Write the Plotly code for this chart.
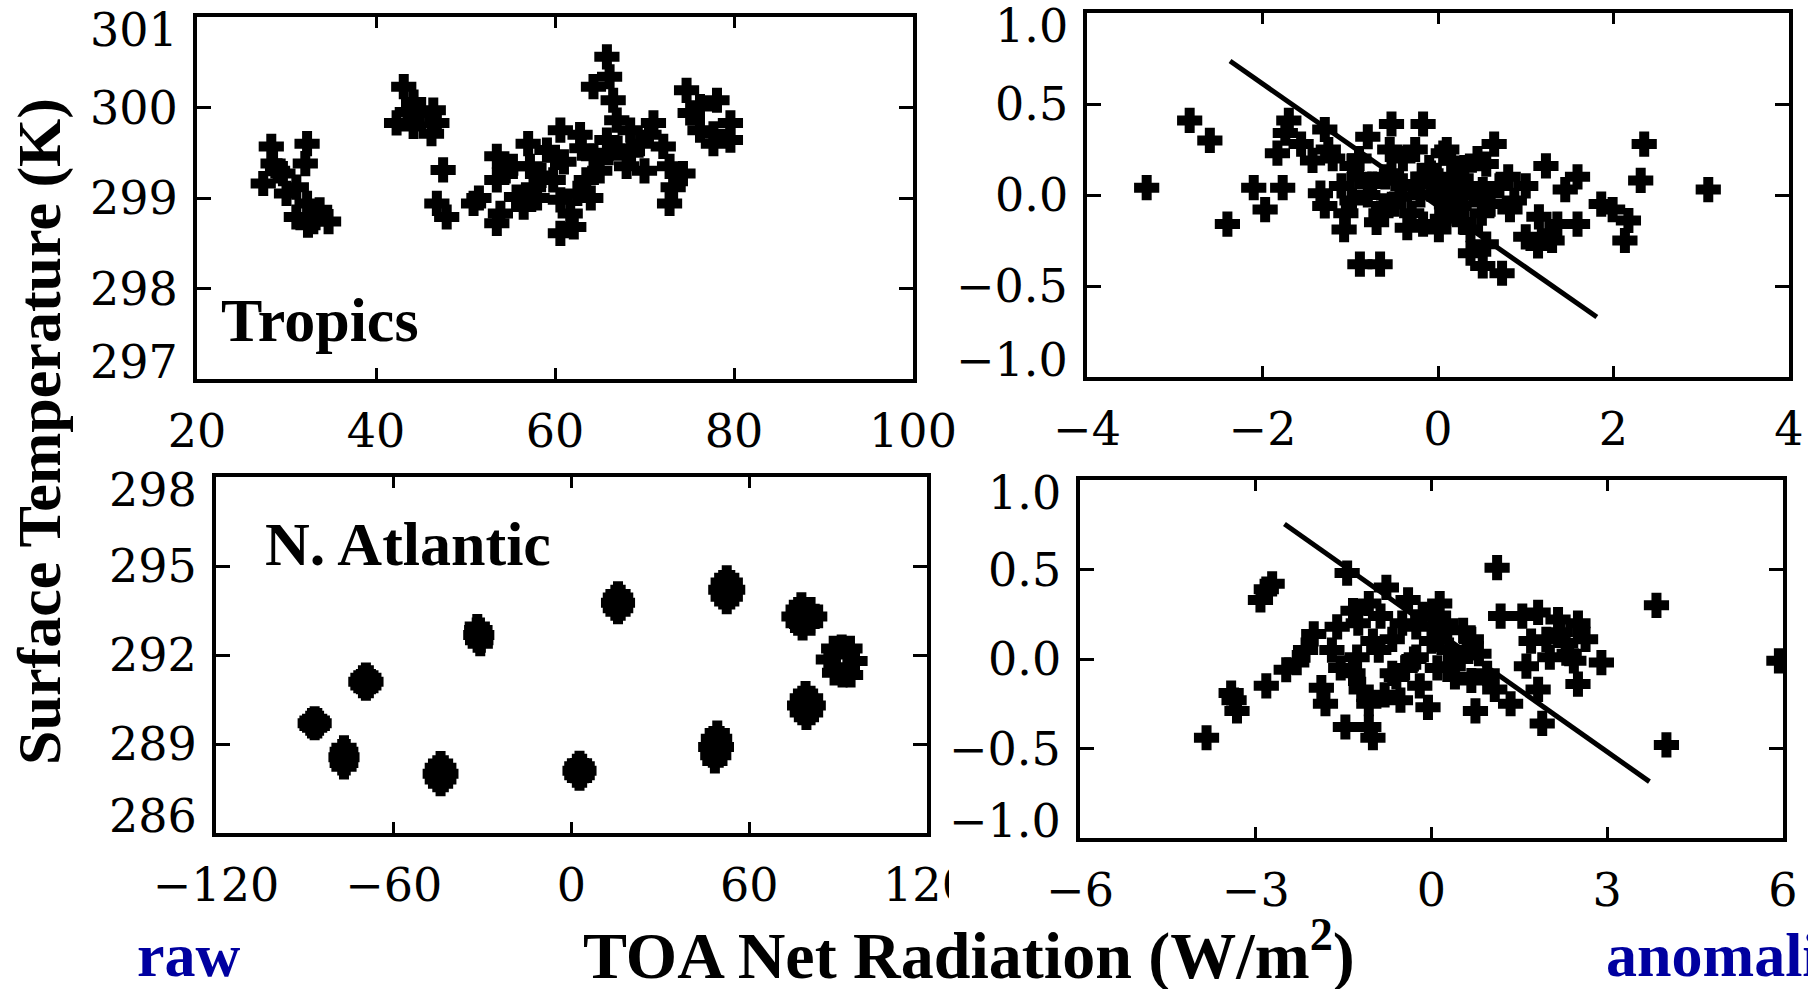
import plotly.graph_objects as go

W, H = 1808, 989

# ---------------- data ----------------
# Tropics, raw monthly values (TOA net radiation W/m2, surface temperature K)
trop_raw_x = [28.3, 32.3, 32.1, 27.4, 29.6, 31.1, 32.3, 31.1, 33.0, 34.7, 28.5, 33.7, 32.4, 30.0, 29.0,
              43.1, 44.2, 42.3, 44.9, 46.4, 46.2, 44.2, 46.8, 43.5,
              47.5, 46.8, 47.9, 50.9, 53.5, 53.5, 53.9, 53.5, 55.7, 57.2, 59.1, 60.6, 62.8, 59.8, 60.6,
              61.7, 60.6, 62.1, 63.5, 64.3, 65.8, 65.8, 66.1, 64.3, 66.5, 66.9, 68.4, 68.0, 71.0, 72.1,
              72.8, 74.3, 73.2, 72.8, 57.6, 55.3, 58.0, 56.5, 61.0, 62.5, 65.0, 67.0, 69.5, 70.0,
              51.5, 54.5, 58.5, 60.0, 63.0, 64.0, 66.0, 68.5, 70.5, 57.0,
              74.7, 76.2, 78.1, 75.1, 79.6, 77.7, 79.6, 77.7, 76.2]
trop_raw_y = [299.57, 299.60, 299.38, 299.16, 299.27, 299.12, 298.94, 298.79, 298.74, 298.74, 299.38, 298.87,
              298.70, 299.05, 299.30,
              300.23, 300.06, 299.83, 299.94, 299.97, 299.71, 299.79, 299.83, 299.95,
              299.31, 298.94, 298.79, 298.94, 299.46, 299.20, 298.83, 298.72, 299.01, 299.35, 299.53, 299.75,
              299.70, 299.20, 298.98, 298.83, 298.61, 298.68, 299.20, 299.46, 299.64, 300.56, 300.34, 300.23,
              300.08, 299.86, 299.75, 299.35, 299.83, 299.57, 299.35, 299.27, 299.12, 298.94, 299.12, 299.35,
              299.00, 298.90, 299.40, 299.05, 299.30, 299.55, 299.60, 299.30,
              299.00, 299.30, 299.25, 299.45, 299.55, 299.00, 299.50, 299.50, 299.70, 299.60,
              300.19, 300.01, 300.08, 299.94, 299.83, 299.71, 299.64, 299.60, 299.75]

# Tropics, anomalies
trop_anom_x = [-3.32, -2.83, -2.60, -2.40, -2.10, -1.77, -1.97, -1.70, -1.74, -1.83, -1.56, -1.43, -1.29, -1.25,
               -1.34, -1.29, -1.07, -0.98, -0.98, -0.80, -0.89, -0.66, -0.53, -0.17, -0.75, -0.53, -0.62, -0.44,
               -0.26, -0.26, -0.17, 0.01, 0.06, -0.08, 0.01, 0.19, 0.24, 0.15, 0.37, 0.55, 0.37, 0.51, 0.73,
               0.55, 0.51, 0.64, 0.87, 1.00, 0.82, 1.23, 1.00, 1.14, 1.27, 1.36, 1.45, 1.59, 1.59, 1.86, 1.99,
               2.17, 2.13, 2.35, 2.31, 3.08,
               -0.80, -0.60, -0.40, -0.20, 0.00, 0.20, 0.40, 0.10, -0.30, -0.50, 0.30, -0.10, 0.50, -0.90,
               -1.10, -0.70, 0.30, -1.20, -0.40, 0.10, 0.70, 0.60, -1.05, -0.35, 0.20,
               -0.90, -0.65, -0.15, 0.35, 0.45, -0.55, 0.05, 0.80, 1.30, 1.15]
trop_anom_y = [0.04, 0.41, 0.30, -0.16, 0.04, 0.04, -0.08, 0.41, 0.34, 0.23, 0.28, 0.19, 0.36, 0.25,
               0.01, -0.06, -0.19, 0.16, -0.03, 0.32, -0.38, -0.38, 0.39, 0.39, 0.06, 0.12, -0.06, -0.01,
               0.25, 0.06, -0.16, -0.19, 0.23, 0.12, -0.01, 0.03, -0.06, 0.19, -0.19, -0.27, -0.32, -0.39, -0.43,
               0.17, 0.03, 0.28, -0.03, 0.05, -0.08, 0.16, -0.23, -0.28, -0.21, -0.16, 0.03, 0.10, -0.16, -0.05,
               -0.08, -0.14, -0.25, 0.28, 0.08, 0.03,
               0.00, 0.10, 0.05, 0.00, 0.05, 0.10, 0.00, -0.10, -0.10, -0.05, 0.15, 0.15, -0.10, 0.20,
               0.05, -0.15, -0.15, 0.20, 0.20, 0.25, 0.05, -0.05, -0.10, -0.18, -0.05,
               0.10, -0.10, 0.10, 0.05, 0.20, 0.25, -0.13, 0.10, -0.25, -0.12]
trop_fit_x = [-2.37, 1.81]
trop_fit_y = [0.736, -0.67]

# N. Atlantic, raw monthly values
natl_raw_x = [-86.7, -86.7, -88.2, -85.2, -87.6, -85.8, -87.6, -85.8,
              -76.8, -76.8, -77.8, -75.8, -77.4, -76.2, -77.4, -76.2,
              -69.4, -69.4, -71.1, -67.7, -70.4, -68.4, -70.4, -68.4,
              -44.2, -44.2, -46.0, -42.4, -45.3, -43.1, -45.3, -43.1,
              -31.8, -30.8, -32.3, -30.3, -32.0, -30.9, -31.7, -30.6,
              2.7, 2.7, 1.2, 4.2, 1.8, 3.6, 1.8, 3.6,
              15.7, 15.7, 14.2, 17.2, 14.8, 16.6, 14.8, 16.6,
              52.4, 52.4, 50.4, 54.4, 51.2, 53.6, 51.2, 53.6,
              49.2, 48.4, 47.0, 50.6, 47.9, 50.0, 47.7, 49.7,
              77.6, 78.0, 75.1, 82.1, 76.5, 80.7, 76.5, 80.7,
              88.5, 94.0, 88.8, 94.2, 86.7, 95.7, 91.2, 91.5,
              79.0, 79.3, 77.0, 81.6, 77.9, 80.7, 77.9, 80.7]
natl_raw_y = [289.85, 289.55, 289.70, 289.70, 289.79, 289.79, 289.61, 289.61,
              288.87, 288.23, 288.55, 288.55, 288.74, 288.74, 288.36, 288.36,
              291.32, 290.88, 291.10, 291.10, 291.23, 291.23, 290.97, 290.97,
              288.34, 287.66, 288.00, 288.00, 288.20, 288.20, 287.80, 287.80,
              292.96, 292.38, 292.67, 292.67, 292.84, 292.84, 292.50, 292.50,
              288.35, 287.85, 288.10, 288.10, 288.25, 288.25, 287.95, 287.95,
              294.06, 293.46, 293.76, 293.76, 293.94, 293.94, 293.58, 293.58,
              294.60, 293.80, 294.20, 294.20, 294.44, 294.44, 293.96, 293.96,
              289.37, 288.43, 288.90, 288.90, 289.18, 289.18, 288.62, 288.62,
              293.69, 292.91, 293.30, 293.30, 293.53, 293.53, 293.07, 293.07,
              292.22, 292.22, 291.40, 291.33, 291.85, 291.80, 292.27, 291.33,
              290.70, 289.90, 290.30, 290.30, 290.54, 290.54, 290.06, 290.06]

# N. Atlantic, anomalies
natl_anom_x = [-3.84, -3.37, -3.42, -3.32, -2.82, -2.72, -2.92, -2.82, -2.48, -2.15, -2.01, -1.81, -1.88,
               -1.47, -1.00, -1.07, -1.44, -0.77, -1.61, -1.34, -1.07, -0.87, -0.40, 0.14, 0.01, -0.26,
               -1.27, -1.34, -1.20, -1.07, -0.67, -0.67, -0.53, -0.06, -0.26, 0.14, 0.28, 0.54, 0.68, 0.81,
               0.68, 0.75, 0.95, 1.08, 1.35, 1.62, 1.82, 1.89, 1.12, 1.18, 1.55, 1.82, 2.16, 2.50, 1.96,
               2.29, 2.63, 2.02, 2.43, 2.90, 2.50, 3.84, 4.01, 5.93,
               -0.90, -0.50, -0.30, 0.00, 0.30, 0.40, -0.20, -0.60, 0.10, 0.50, -1.00, -0.80, -2.30,
               -1.70, -1.55, -0.45, 0.25, 0.60, -0.15, 2.20, 1.70, 2.35, -1.25]
natl_anom_y = [-0.44, -0.23, -0.19, -0.29, 0.39, 0.42, 0.33, -0.15, -0.06, 0.05, 0.14, -0.25, -0.16,
               -0.38, -0.44, -0.38, 0.48, 0.40, 0.18, 0.27, 0.31, 0.24, 0.33, 0.31, 0.24, 0.18,
               0.01, -0.08, -0.17, -0.25, 0.11, -0.08, -0.23, -0.27, 0.01, 0.11, -0.04, 0.16, 0.11, 0.03,
               -0.12, -0.29, -0.08, -0.17, -0.25, -0.04, -0.17, -0.36, 0.51, 0.24, 0.24, 0.26, 0.22, 0.20, 0.11,
               0.09, 0.11, 0.01, -0.01, -0.02, -0.14, 0.30, -0.48, -0.01,
               0.05, 0.20, 0.00, 0.10, 0.05, -0.10, -0.15, -0.10, -0.05, 0.00, 0.10, -0.20, -0.02,
               0.05, -0.05, -0.05, 0.20, 0.05, 0.25, 0.15, 0.10, 0.03, 0.20]
natl_fit_x = [-2.51, 3.72]
natl_fit_y = [0.754, -0.685]

# ticks
trop_raw_xticks = [20, 40, 60, 80, 100]
trop_raw_yticks = [297, 298, 299, 300, 301]
trop_anom_xticks = [-4, -2, 0, 2, 4]
anom_yticks = [-1.0, -0.5, 0.0, 0.5, 1.0]
anom_ytext = ["\u22121.0", "\u22120.5", "0.0", "0.5", "1.0"]
natl_raw_xticks = [-120, -60, 0, 60, 120]
natl_raw_yticks = [286, 289, 292, 295, 298]
natl_anom_xticks = [-6, -3, 0, 3, 6]


def fmt(v):
    return str(v).replace("-", "\u2212")


# ---------------- layout helpers ----------------
def fx(px):
    return px / W


def fy(py):
    return 1 - py / H


boxes = {
    1: (197, 913, 17, 379),
    2: (1087, 1789, 13, 377),
    3: (216, 927, 477, 833),
    4: (1080, 1783, 480, 838),
}
ranges = {
    1: ([20, 100], [297, 301]),
    2: ([-4, 4], [-1, 1]),
    3: ([-120, 120], [286, 298]),
    4: ([-6, 6], [-1, 1]),
}
xticks = {1: trop_raw_xticks, 2: trop_anom_xticks, 3: natl_raw_xticks, 4: natl_anom_xticks}
yticks = {1: (trop_raw_yticks, [str(v) for v in trop_raw_yticks]),
          2: (anom_yticks, anom_ytext),
          3: (natl_raw_yticks, [str(v) for v in natl_raw_yticks]),
          4: (anom_yticks, anom_ytext)}

TICKFONT = dict(family="DejaVu Serif", size=46, color="black")
BOLD = dict(family="Liberation Serif", color="black", weight="bold")

fig = go.Figure()

marker = dict(symbol="cross-thin", size=18, color="black", line=dict(width=10, color="black"))
fig.add_trace(go.Scatter(x=trop_raw_x, y=trop_raw_y, mode="markers", marker=marker,
                         xaxis="x", yaxis="y", showlegend=False))
fig.add_trace(go.Scatter(x=trop_anom_x, y=trop_anom_y, mode="markers", marker=marker,
                         xaxis="x2", yaxis="y2", showlegend=False))
fig.add_trace(go.Scatter(x=trop_fit_x, y=trop_fit_y, mode="lines", line=dict(color="black", width=5),
                         xaxis="x2", yaxis="y2", showlegend=False))
fig.add_trace(go.Scatter(x=natl_raw_x, y=natl_raw_y, mode="markers", marker=marker,
                         xaxis="x3", yaxis="y3", showlegend=False))
fig.add_trace(go.Scatter(x=natl_anom_x, y=natl_anom_y, mode="markers", marker=marker,
                         xaxis="x4", yaxis="y4", showlegend=False))
fig.add_trace(go.Scatter(x=natl_fit_x, y=natl_fit_y, mode="lines", line=dict(color="black", width=5),
                         xaxis="x4", yaxis="y4", showlegend=False))

layout = dict(
    width=W, height=H, autosize=False,
    margin=dict(l=0, r=0, t=0, b=0, pad=0, autoexpand=False),
    paper_bgcolor="white", plot_bgcolor="white",
    showlegend=False,
)
axis_common = dict(showgrid=False, zeroline=False, showline=True, linecolor="black", linewidth=3.5,
                   mirror="ticks", ticks="inside", tickcolor="black", tickwidth=3, automargin=False)
annotations = []
for i in range(1, 5):
    l, r, t, b = boxes[i]
    xr, yr = ranges[i]
    sfx = "" if i == 1 else str(i)
    layout["xaxis" + sfx] = dict(axis_common, domain=[fx(l), fx(r)], range=xr, anchor="y" + sfx,
                                 tickvals=xticks[i], ticktext=[fmt(v) for v in xticks[i]],
                                 tickfont=TICKFONT, ticklen=11, ticklabelstandoff=9)
    yv, yt = yticks[i]
    layout["yaxis" + sfx] = dict(axis_common, domain=[fy(b), fy(t)], range=yr, anchor="x" + sfx,
                                 tickvals=yv, showticklabels=False, ticklen=14)
    for k, (v, txt) in enumerate(zip(yv, yt)):
        shift = 0
        if k == 0:
            shift = 17
        elif k == len(yv) - 1:
            shift = -13
        annotations.append(dict(x=0, xref="x" + sfx + " domain", y=v, yref="y" + sfx,
                                text=txt, showarrow=False, xanchor="right", yanchor="middle",
                                xshift=-17, yshift=shift, font=TICKFONT))


def label(text, px, py, size, anchor="left", color="black", angle=0):
    annotations.append(dict(x=fx(px), y=fy(py), xref="paper", yref="paper", text=text,
                            showarrow=False, xanchor=anchor, yanchor="middle", textangle=angle,
                            font=dict(BOLD, size=size, color=color)))


label("Tropics", 219, 320, 62)
label("N. Atlantic", 263, 544, 62)
label("Surface Temperature (K)", 39, 432, 62, anchor="center", angle=-90)
label("TOA Net Radiation (W/m<sup>2</sup>)", 969, 951, 66, anchor="center")
label("raw", 135, 955, 62, color="#0000A0")
label("anomalies", 1604, 955, 62, color="#0000A0")

layout["annotations"] = annotations
layout["shapes"] = [dict(type="rect", xref="paper", yref="paper", x0=fx(949), x1=fx(1010),
                         y0=fy(920), y1=fy(850), fillcolor="white", line=dict(width=0), layer="above")]

fig.update_layout(layout)
fig.write_html("out.html")
